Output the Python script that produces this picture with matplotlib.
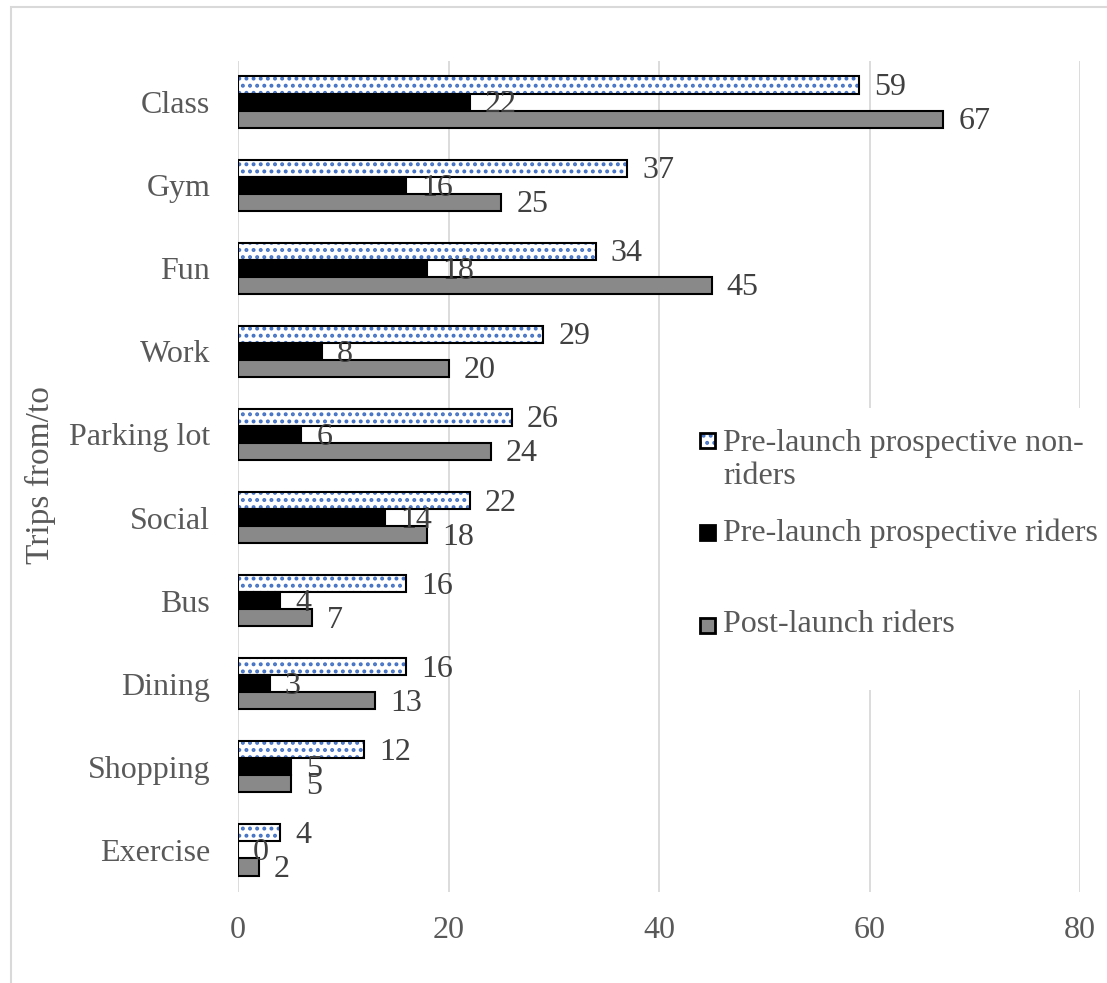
import matplotlib
matplotlib.use("Agg")
import matplotlib.pyplot as plt
from matplotlib.patches import Rectangle
from matplotlib.backend_bases import GraphicsContextBase
import numpy as np

categories = ["Class", "Gym", "Fun", "Work", "Parking lot", "Social",
              "Bus", "Dining", "Shopping", "Exercise"]
non_riders = [59, 37, 34, 29, 26, 22, 16, 16, 12, 4]
riders = [22, 16, 18, 8, 6, 14, 4, 3, 5, 0]
post_riders = [67, 25, 45, 20, 24, 18, 7, 13, 5, 2]
series_names = ["Pre-launch prospective non-\nriders",
                "Pre-launch prospective riders",
                "Post-launch riders"]
x_ticks = [0, 20, 40, 60, 80]

SERIF = ["Liberation Serif", "DejaVu Serif"]
LABEL_COLOR = "#404040"
TICK_COLOR = "#595959"
GRID_COLOR = "#d9d9d9"
DOT_BLUE = "#4472C4"
GREY = "#898989"
FS = 23

plt.rcParams["font.family"] = SERIF
plt.rcParams["hatch.linewidth"] = 1.8

# slightly finer dot pattern than the default hatch density
_base_hatch_path = GraphicsContextBase.get_hatch_path
GraphicsContextBase.get_hatch_path = lambda self, density=6.0: _base_hatch_path(self, 7.0)

W, H = 1107, 983
fig = plt.figure(figsize=(W / 100, H / 100), dpi=100)

# outer chart frame
fig.patches.append(Rectangle((11 / W, -0.1), 1.2, 1.1 - 7 / H, transform=fig.transFigure,
                             fill=False, edgecolor=GRID_COLOR, linewidth=1.5))

ax = fig.add_axes([238 / W, 1 - 891.5 / H, (1080 - 238) / W, (891.5 - 60.5) / H])

y = np.arange(len(categories))
h = 0.205

# pre-launch non-riders: dotted fill, black outline
ax.barh(y - h, non_riders, height=h, color="white", hatch="..",
        edgecolor=DOT_BLUE, linewidth=0, zorder=2)
ax.barh(y - h, non_riders, height=h, fill=False, edgecolor="black",
        linewidth=1.5, zorder=3)
ax.barh(y, riders, height=h, color="black", edgecolor="black",
        linewidth=1.5, zorder=2)
ax.barh(y + h, post_riders, height=h, color=GREY, edgecolor="black",
        linewidth=1.5, zorder=2)

ax.set_xlim(0, 80)
ax.set_ylim(len(categories) - 0.5, -0.5)

px_per_unit = (1080 - 238) / 80.0
off_units = 15 / px_per_unit

for i in range(len(categories)):
    ax.text(non_riders[i] + off_units, y[i] - h + 0.03, str(non_riders[i]),
            fontsize=FS, color=LABEL_COLOR, va="center", ha="left", zorder=6)
    ax.text(riders[i] + off_units, y[i] + 0.035, str(riders[i]),
            fontsize=FS, color=LABEL_COLOR, va="center", ha="left", zorder=6)
    ax.text(post_riders[i] + off_units, y[i] + h + 0.03, str(post_riders[i]),
            fontsize=FS, color=LABEL_COLOR, va="center", ha="left", zorder=6)

ax.set_xticks(x_ticks)
ax.set_yticks(y)
ax.set_yticklabels(categories)
ax.tick_params(axis="both", length=0, labelsize=FS, labelcolor=TICK_COLOR)
ax.tick_params(axis="x", pad=18)
ax.tick_params(axis="y", pad=20)
ax.grid(axis="x", color=GRID_COLOR, linewidth=1.3, zorder=0)
ax.set_axisbelow(True)
for s in ax.spines.values():
    s.set_visible(False)

fig.text(40 / W, 1 - 475 / H, "Trips from/to", rotation=90, fontsize=FS + 1,
         color=TICK_COLOR, ha="center", va="center")

# legend panel
ax.add_patch(Rectangle((688 / W, 1 - 690 / H), 420 / W, 282 / H,
                       transform=fig.transFigure, facecolor="white",
                       edgecolor="none", zorder=5, clip_on=False))
handles = [dict(face="white", hatch=".."),
           dict(face="black", hatch=None),
           dict(face=GREY, hatch=None)]
marker_y = [440, 532, 625]
text_y = [460, 533, 625]
for hd, my, ty, name in zip(handles, marker_y, text_y, series_names):
    x0, s = 700, 15
    corner = (x0 / W, 1 - (my + s / 2) / H)
    if hd["hatch"]:
        fig.patches.append(Rectangle(corner, s / W, s / H,
                                     transform=fig.transFigure, facecolor="white",
                                     hatch=hd["hatch"], edgecolor=DOT_BLUE,
                                     linewidth=0, zorder=6))
        fig.patches.append(Rectangle(corner, s / W, s / H,
                                     transform=fig.transFigure, fill=False,
                                     edgecolor="black", linewidth=2, zorder=7))
    else:
        fig.patches.append(Rectangle(corner, s / W, s / H,
                                     transform=fig.transFigure, facecolor=hd["face"],
                                     edgecolor="black", linewidth=2, zorder=7))
    fig.text(723 / W, 1 - ty / H, name, fontsize=FS, color=TICK_COLOR,
             ha="left", va="center", linespacing=1.15, zorder=8)

fig.savefig("out.png", dpi=100)
